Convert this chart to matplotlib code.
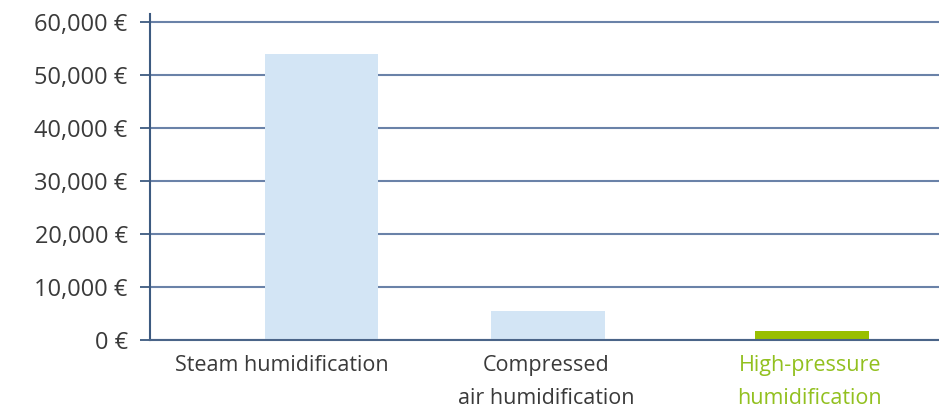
import matplotlib.pyplot as plt
import numpy as np

plt.rcParams['font.family'] = ['Open Sans', 'DejaVu Sans']

categories = ["Steam humidification", "Compressed\nair humidification", "High-pressure\nhumidification"]
costs = [54000, 5500, 1700]
bar_colors = ["#d3e5f5", "#d3e5f5", "#99bf00"]
label_colors = ["#3a3a3a", "#3a3a3a", "#92c01f"]
yticks = [0, 10000, 20000, 30000, 40000, 50000, 60000]

# the first bar sits a bit right of its label in the original
bar_offsets = [0.15, 0.008, 0.008]

fig = plt.figure(figsize=(9.39, 4.12), dpi=100)
ax = fig.add_axes([0.1597, 0.1748, 0.8403, 0.7912])

x = np.arange(len(categories))
ax.bar(x + np.array(bar_offsets), costs, width=0.43, color=bar_colors, zorder=2)

ax.set_ylim(0, 61500)
ax.set_xlim(-0.5, 2.49)
ax.set_yticks(yticks)
ax.set_yticklabels([f"{v:,} €" for v in yticks])
ax.yaxis.grid(True, color="#6a82a8", linewidth=1.5, zorder=1)
ax.set_axisbelow(True)

ax.set_xticks(x)
ax.set_xticklabels(categories, linespacing=1.75)
for lbl, c in zip(ax.get_xticklabels(), label_colors):
    lbl.set_color(c)

ax.tick_params(axis='y', length=7, width=1.3, color="#3d5a80", labelsize=17,
               labelcolor="#3a3a3a", pad=9)
ax.tick_params(axis='x', length=0, labelsize=15.5, pad=11)

for side in ['top', 'right']:
    ax.spines[side].set_visible(False)
ax.spines['left'].set_color("#3d5a80")
ax.spines['left'].set_linewidth(1.5)
ax.spines['bottom'].set_color("#4a6488")
ax.spines['bottom'].set_linewidth(1.5)
ax.spines['bottom'].set_zorder(3)

fig.savefig("out.png", dpi=100)
